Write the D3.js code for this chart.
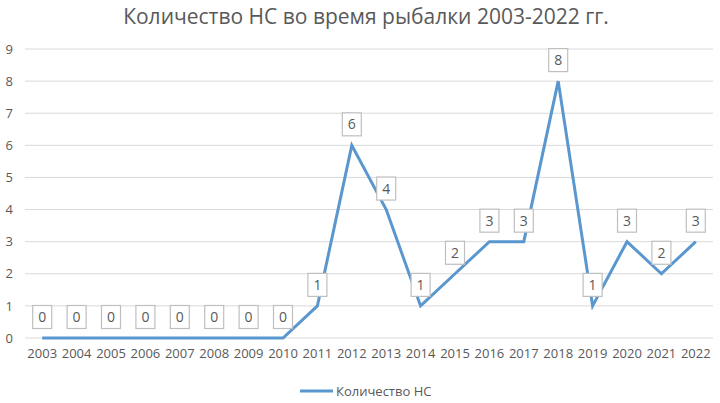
<!DOCTYPE html>
<html>
<head>
<meta charset="utf-8">
<script src="https://cdn.jsdelivr.net/npm/d3@7"></script>
<style>
  body { margin: 0; background: #fff; }
  svg { font-family: "Open Sans", sans-serif; }
</style>
</head>
<body>
<svg id="chart" width="720" height="403"></svg>
<script>
// chart data
const years = ["2003","2004","2005","2006","2007","2008","2009","2010","2011","2012",
               "2013","2014","2015","2016","2017","2018","2019","2020","2021","2022"];
const counts = [0,0,0,0,0,0,0,0,1,6,4,1,2,3,3,8,1,3,2,3];
const yTicks = [0,1,2,3,4,5,6,7,8,9];

const title = "Количество НС во время рыбалки 2003-2022 гг.";
const seriesName = "Количество НС";

const width = 720, height = 403;
const margin = {top: 49, right: 7, bottom: 65, left: 25};
const lineColor = "#5a97cf";
const textColor = "#595959";
const font = "'Open Sans', sans-serif";

const svg = d3.select("#chart");

const x = d3.scaleBand()
    .domain(years)
    .range([margin.left, width - margin.right]);

const y = d3.scaleLinear()
    .domain([0, 9])
    .range([height - margin.bottom, margin.top]);

// title
svg.append("text")
    .attr("x", 366)
    .attr("y", 24)
    .attr("text-anchor", "middle")
    .attr("fill", textColor)
    .style("font-size", "21px")
    .text(title);

// gridlines
svg.append("g")
    .selectAll("line")
    .data(yTicks)
    .join("line")
    .attr("x1", margin.left)
    .attr("x2", width - margin.right)
    .attr("y1", d => y(d))
    .attr("y2", d => y(d))
    .attr("stroke", "#d9d9d9")
    .attr("stroke-width", 1);

// y axis labels
const yAxis = svg.append("g")
    .attr("transform", `translate(${margin.left - 12},0)`)
    .call(d3.axisLeft(y).tickValues(yTicks).tickSize(0).tickPadding(0));
yAxis.select(".domain").remove();
yAxis.selectAll("text")
    .attr("fill", textColor)
    .style("font-size", "13px")
    .style("font-family", font);

// x axis labels
const xAxis = svg.append("g")
    .attr("transform", `translate(0,${y(0) + 11})`)
    .call(d3.axisBottom(x).tickSize(0).tickPadding(0));
xAxis.select(".domain").remove();
xAxis.selectAll("text")
    .attr("fill", textColor)
    .style("font-size", "13px")
    .style("font-family", font);

// line
const line = d3.line()
    .x((d, i) => x(years[i]) + x.bandwidth() / 2)
    .y(d => y(d));

svg.append("path")
    .datum(counts)
    .attr("fill", "none")
    .attr("stroke", lineColor)
    .attr("stroke-width", 3)
    .attr("stroke-linejoin", "miter")
    .attr("d", line);

// data labels
const labels = svg.append("g")
    .selectAll("g")
    .data(counts)
    .join("g")
    .attr("transform", (d, i) => `translate(${x(years[i]) + x.bandwidth() / 2},${y(d) - 21})`);

labels.append("rect")
    .attr("x", -9.5)
    .attr("y", -11.5)
    .attr("width", 19)
    .attr("height", 23)
    .attr("fill", "#fff")
    .attr("stroke", "#bfbfbf")
    .attr("stroke-width", 1.2);

labels.append("text")
    .attr("text-anchor", "middle")
    .attr("dy", "0.36em")
    .attr("fill", textColor)
    .style("font-size", "14px")
    .text(d => d);

// legend
const legend = svg.append("g").attr("transform", "translate(300,391)");
legend.append("line")
    .attr("x1", 0).attr("x2", 33)
    .attr("stroke", lineColor)
    .attr("stroke-width", 3);
legend.append("text")
    .attr("x", 36)
    .attr("dy", "0.35em")
    .attr("fill", textColor)
    .style("font-size", "13px")
    .text(seriesName);
</script>
</body>
</html>
